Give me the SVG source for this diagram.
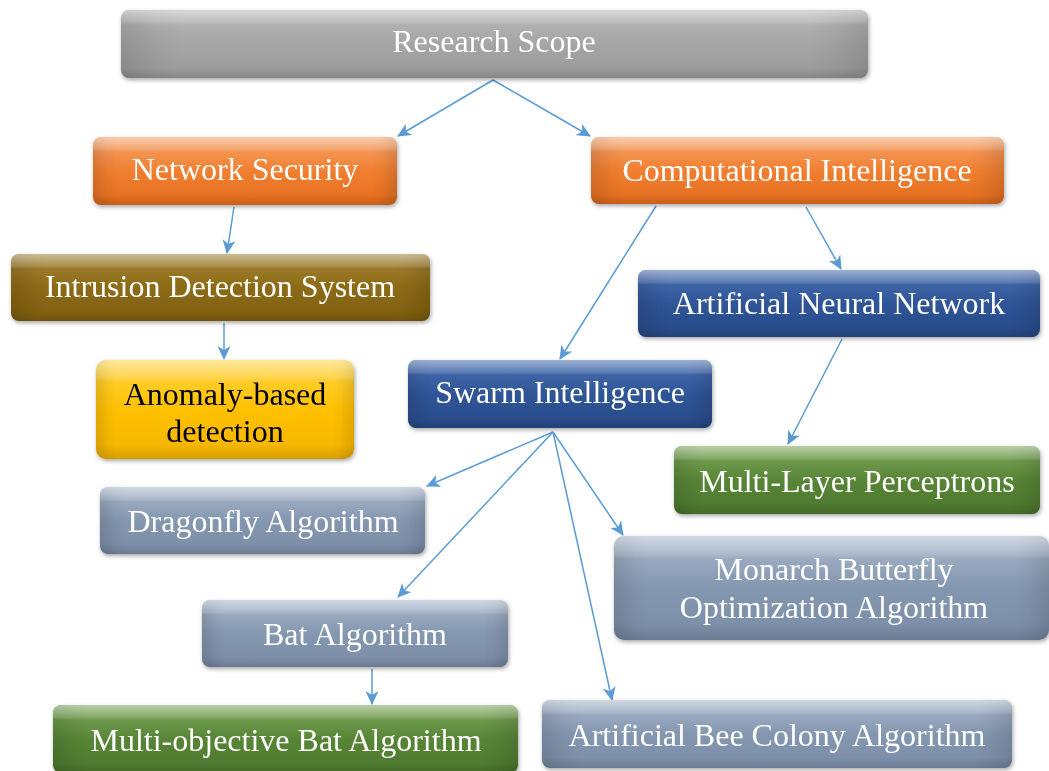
<svg xmlns="http://www.w3.org/2000/svg" width="1049" height="771" viewBox="0 0 1049 771">
  <style>
    .lbl { font-family: "Liberation Serif", "Times New Roman", serif; font-size: 32px; fill: #ffffff; text-anchor: middle; }
    .dark { fill: #000000; }
    .edge { stroke: #5b9bd5; stroke-width: 1.5; fill: none; marker-end: url(#arrow); }
    .sides { fill: url(#sideShade); }
    .shine { fill: url(#topShine); }
  </style>
  <defs>
    <marker id="arrow" viewBox="0 0 14 14" refX="13" refY="7" markerWidth="14" markerHeight="14" markerUnits="userSpaceOnUse" orient="auto">
      <path d="M0,0.5 L14,7 L0,13.5 L4,7 Z" fill="#5b9bd5"/>
    </marker>
    <filter id="shadow" x="-10%" y="-20%" width="120%" height="150%">
      <feDropShadow dx="1" dy="2" stdDeviation="2" flood-color="#000" flood-opacity="0.35"/>
    </filter>
    <linearGradient id="sideShade" x1="0" y1="0" x2="1" y2="0">
      <stop offset="0" stop-color="#000" stop-opacity="0.12"/>
      <stop offset="0.05" stop-color="#000" stop-opacity="0.03"/>
      <stop offset="0.08" stop-color="#000" stop-opacity="0"/>
      <stop offset="0.92" stop-color="#000" stop-opacity="0"/>
      <stop offset="0.95" stop-color="#000" stop-opacity="0.03"/>
      <stop offset="1" stop-color="#000" stop-opacity="0.12"/>
    </linearGradient>
    <linearGradient id="topShine" x1="0" y1="0" x2="0" y2="1">
      <stop offset="0" stop-color="#fff" stop-opacity="0.45"/>
      <stop offset="0.18" stop-color="#fff" stop-opacity="0.15"/>
      <stop offset="0.22" stop-color="#fff" stop-opacity="0"/>
      <stop offset="0.85" stop-color="#000" stop-opacity="0"/>
      <stop offset="1" stop-color="#000" stop-opacity="0.12"/>
    </linearGradient>
    <linearGradient id="gGray" x1="0" y1="0" x2="0" y2="1">
      <stop offset="0" stop-color="#b8b8b8"/><stop offset="0.5" stop-color="#a5a5a5"/><stop offset="1" stop-color="#9a9a9a"/>
    </linearGradient>
    <linearGradient id="gOrange" x1="0" y1="0" x2="0" y2="1">
      <stop offset="0" stop-color="#f6a36a"/><stop offset="0.5" stop-color="#f17f30"/><stop offset="1" stop-color="#e36c1d"/>
    </linearGradient>
    <linearGradient id="gOlive" x1="0" y1="0" x2="0" y2="1">
      <stop offset="0" stop-color="#a3853a"/><stop offset="0.5" stop-color="#8c6a14"/><stop offset="1" stop-color="#7e5f10"/>
    </linearGradient>
    <linearGradient id="gYellow" x1="0" y1="0" x2="0" y2="1">
      <stop offset="0" stop-color="#ffd648"/><stop offset="0.5" stop-color="#ffc000"/><stop offset="1" stop-color="#f5b400"/>
    </linearGradient>
    <linearGradient id="gBlue" x1="0" y1="0" x2="0" y2="1">
      <stop offset="0" stop-color="#4a70b2"/><stop offset="0.5" stop-color="#2f5597"/><stop offset="1" stop-color="#284a87"/>
    </linearGradient>
    <linearGradient id="gGreen" x1="0" y1="0" x2="0" y2="1">
      <stop offset="0" stop-color="#7ea85c"/><stop offset="0.5" stop-color="#588536"/><stop offset="1" stop-color="#4c772e"/>
    </linearGradient>
    <linearGradient id="gSteel" x1="0" y1="0" x2="0" y2="1">
      <stop offset="0" stop-color="#a9b8cc"/><stop offset="0.5" stop-color="#8497b0"/><stop offset="1" stop-color="#7a8ca6"/>
    </linearGradient>
  </defs>

  <!-- connectors -->
  <g id="connectors">
    <line class="edge" x1="493" y1="80" x2="398" y2="136"/>
    <line class="edge" x1="493" y1="80" x2="590" y2="136"/>
    <line class="edge" x1="234" y1="207" x2="227" y2="253"/>
    <line class="edge" x1="656" y1="206" x2="560" y2="359"/>
    <line class="edge" x1="806" y1="207" x2="841" y2="269"/>
    <line class="edge" x1="224" y1="323" x2="224" y2="359"/>
    <line class="edge" x1="842" y1="339" x2="788" y2="444"/>
    <line class="edge" x1="553" y1="432" x2="427" y2="486"/>
    <line class="edge" x1="553" y1="432" x2="398" y2="597"/>
    <line class="edge" x1="553" y1="432" x2="623" y2="535"/>
    <line class="edge" x1="553" y1="432" x2="612" y2="700"/>
    <line class="edge" x1="372" y1="669" x2="372" y2="704"/>
  </g>

  <!-- nodes -->
  <g id="research-scope" filter="url(#shadow)">
    <rect x="121" y="10" width="747" height="68" rx="8" fill="url(#gGray)"/>
    <rect class="sides" x="121" y="10" width="747" height="68" rx="8"/>
    <rect class="shine" x="121" y="10" width="747" height="68" rx="8"/>
    <text class="lbl" x="494" y="52">Research Scope</text>
  </g>
  <g id="network-security" filter="url(#shadow)">
    <rect x="93" y="137" width="304" height="68" rx="8" fill="url(#gOrange)"/>
    <rect class="sides" x="93" y="137" width="304" height="68" rx="8"/>
    <rect class="shine" x="93" y="137" width="304" height="68" rx="8"/>
    <text class="lbl" x="245" y="180">Network Security</text>
  </g>
  <g id="computational-intelligence" filter="url(#shadow)">
    <rect x="591" y="137" width="413" height="67" rx="8" fill="url(#gOrange)"/>
    <rect class="sides" x="591" y="137" width="413" height="67" rx="8"/>
    <rect class="shine" x="591" y="137" width="413" height="67" rx="8"/>
    <text class="lbl" x="797" y="181">Computational Intelligence</text>
  </g>
  <g id="intrusion-detection" filter="url(#shadow)">
    <rect x="11" y="254" width="419" height="67" rx="8" fill="url(#gOlive)"/>
    <rect class="sides" x="11" y="254" width="419" height="67" rx="8"/>
    <rect class="shine" x="11" y="254" width="419" height="67" rx="8"/>
    <text class="lbl" x="220" y="297">Intrusion Detection System</text>
  </g>
  <g id="anomaly-detection" filter="url(#shadow)">
    <rect x="96" y="360" width="258" height="99" rx="10" fill="url(#gYellow)"/>
    <rect class="sides" x="96" y="360" width="258" height="99" rx="10"/>
    <rect class="shine" x="96" y="360" width="258" height="99" rx="10"/>
    <text class="lbl dark" x="225" y="405">Anomaly-based</text>
    <text class="lbl dark" x="225" y="442">detection</text>
  </g>
  <g id="artificial-neural-network" filter="url(#shadow)">
    <rect x="638" y="270" width="402" height="67" rx="8" fill="url(#gBlue)"/>
    <rect class="sides" x="638" y="270" width="402" height="67" rx="8"/>
    <rect class="shine" x="638" y="270" width="402" height="67" rx="8"/>
    <text class="lbl" x="839" y="314">Artificial Neural Network</text>
  </g>
  <g id="swarm-intelligence" filter="url(#shadow)">
    <rect x="408" y="360" width="304" height="68" rx="8" fill="url(#gBlue)"/>
    <rect class="sides" x="408" y="360" width="304" height="68" rx="8"/>
    <rect class="shine" x="408" y="360" width="304" height="68" rx="8"/>
    <text class="lbl" x="560" y="403">Swarm Intelligence</text>
  </g>
  <g id="multi-layer-perceptrons" filter="url(#shadow)">
    <rect x="674" y="446" width="366" height="68" rx="8" fill="url(#gGreen)"/>
    <rect class="sides" x="674" y="446" width="366" height="68" rx="8"/>
    <rect class="shine" x="674" y="446" width="366" height="68" rx="8"/>
    <text class="lbl" x="857" y="492">Multi-Layer Perceptrons</text>
  </g>
  <g id="dragonfly-algorithm" filter="url(#shadow)">
    <rect x="100" y="487" width="325" height="67" rx="8" fill="url(#gSteel)"/>
    <rect class="sides" x="100" y="487" width="325" height="67" rx="8"/>
    <rect class="shine" x="100" y="487" width="325" height="67" rx="8"/>
    <text class="lbl" x="263" y="532">Dragonfly Algorithm</text>
  </g>
  <g id="monarch-butterfly" filter="url(#shadow)">
    <rect x="614" y="536" width="435" height="104" rx="10" fill="url(#gSteel)"/>
    <rect class="sides" x="614" y="536" width="435" height="104" rx="10"/>
    <rect class="shine" x="614" y="536" width="435" height="104" rx="10"/>
    <text class="lbl" x="834" y="580">Monarch Butterfly</text>
    <text class="lbl" x="834" y="618">Optimization Algorithm</text>
  </g>
  <g id="bat-algorithm" filter="url(#shadow)">
    <rect x="202" y="600" width="306" height="67" rx="8" fill="url(#gSteel)"/>
    <rect class="sides" x="202" y="600" width="306" height="67" rx="8"/>
    <rect class="shine" x="202" y="600" width="306" height="67" rx="8"/>
    <text class="lbl" x="355" y="645">Bat Algorithm</text>
  </g>
  <g id="multi-objective-bat" filter="url(#shadow)">
    <rect x="53" y="705" width="465" height="68" rx="8" fill="url(#gGreen)"/>
    <rect class="sides" x="53" y="705" width="465" height="68" rx="8"/>
    <rect class="shine" x="53" y="705" width="465" height="68" rx="8"/>
    <text class="lbl" x="286" y="751">Multi-objective Bat Algorithm</text>
  </g>
  <g id="bee-colony" filter="url(#shadow)">
    <rect x="542" y="700" width="470" height="68" rx="8" fill="url(#gSteel)"/>
    <rect class="sides" x="542" y="700" width="470" height="68" rx="8"/>
    <rect class="shine" x="542" y="700" width="470" height="68" rx="8"/>
    <text class="lbl" x="777" y="746">Artificial Bee Colony Algorithm</text>
  </g>
</svg>
